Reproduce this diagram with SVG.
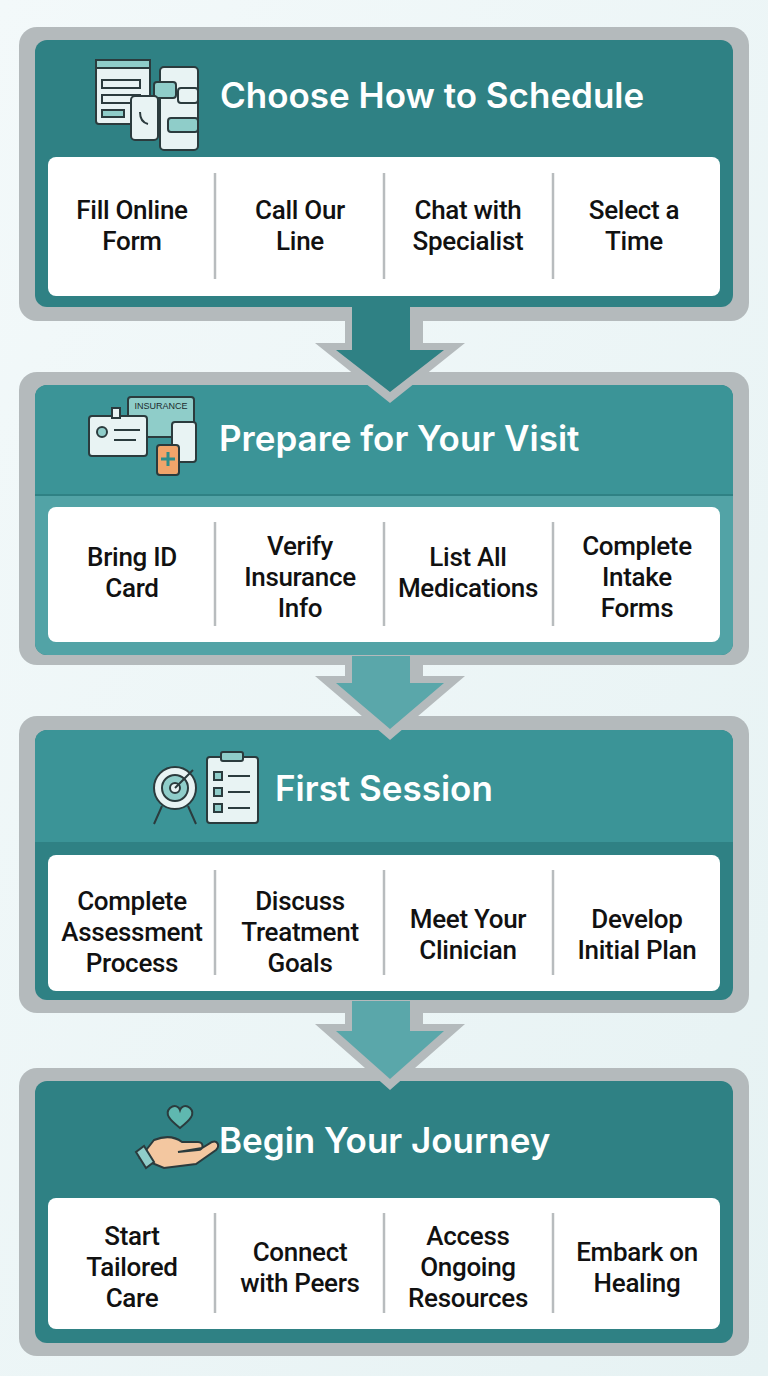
<svg xmlns="http://www.w3.org/2000/svg" width="768" height="1376" viewBox="0 0 768 1376">
<defs>
<style>
.frame{fill:#b4babc}
.panel{fill:#2f8184}
.head{fill:#3b9497}
.card{fill:#ffffff}
.div{stroke:#b8bcbe;stroke-width:2.5}
.t{font-family:Roboto,"Liberation Sans",Arial,sans-serif;font-weight:500;font-size:26px;fill:#111;text-anchor:middle;letter-spacing:-0.3px}
.h{font-family:"Inter","Liberation Sans",sans-serif;font-weight:600;font-size:35px;fill:#fff}
.ic{fill:#e8f3f3;stroke:#2b3b3d;stroke-width:2}
.ia{fill:#8fcdc9;stroke:#2b3b3d;stroke-width:2}
.ln{stroke:#2b3b3d;stroke-width:2;fill:none}
</style>
<linearGradient id="bg" x1="0" y1="0" x2="1" y2="1"><stop offset="0" stop-color="#f3f9fa"/><stop offset="1" stop-color="#e6f2f3"/></linearGradient>
</defs>
<rect width="768" height="1376" fill="url(#bg)"/>

<g id="step1">
<rect class="frame" x="19" y="27" width="730" height="294" rx="18"/>
<rect class="panel" x="35" y="40" width="698" height="267" rx="12"/>
<g>
<rect class="ic" x="96" y="60" width="54" height="64" rx="3"/>
<rect class="ia" x="96" y="60" width="54" height="8"/>
<rect x="102" y="80" width="38" height="8" class="ic"/><rect x="102" y="95" width="38" height="8" class="ic"/><rect x="102" y="110" width="22" height="7" class="ia"/>
<rect class="ic" x="160" y="67" width="38" height="83" rx="4"/>
<rect class="ia" x="154" y="82" width="22" height="16" rx="3"/><rect class="ic" x="178" y="88" width="20" height="15" rx="3"/><rect class="ia" x="168" y="118" width="30" height="14" rx="3"/>
<rect class="ic" x="131" y="96" width="27" height="44" rx="4"/>
<path class="ln" d="M140 112 q0 10 8 12"/>
</g>
<text class="h" x="220" y="108">Choose How to Schedule</text>
<rect class="card" x="48" y="157" width="672" height="139" rx="8"/>
<line class="div" x1="215" y1="173" x2="215" y2="279"/><line class="div" x1="384" y1="173" x2="384" y2="279"/><line class="div" x1="553" y1="173" x2="553" y2="279"/>
<text class="t" x="132" y="219">Fill Online<tspan x="132" dy="31">Form</tspan></text>
<text class="t" x="300" y="219">Call Our<tspan x="300" dy="31">Line</tspan></text>
<text class="t" x="468" y="219">Chat with<tspan x="468" dy="31">Specialist</tspan></text>
<text class="t" x="634" y="219">Select a<tspan x="634" dy="31">Time</tspan></text>
</g>

<g id="step2">
<rect class="frame" x="19" y="372" width="730" height="293" rx="18"/>
<rect class="panel" x="35" y="385" width="698" height="270" rx="12"/>
<rect class="head" x="35" y="385" width="698" height="110" rx="12"/>
<rect x="35" y="480" width="698" height="15" fill="#3b9497"/>
<rect x="35" y="494" width="698" height="2" fill="#2f8184"/>
<rect x="35" y="496" width="698" height="159" rx="12" fill="#52a3a6"/>
<rect x="35" y="496" width="698" height="20" fill="#52a3a6"/>
<g>
<rect class="ia" x="128" y="397" width="66" height="40" rx="3"/>
<text x="161" y="409" font-family="Liberation Sans,sans-serif" font-size="9" fill="#1b2b2d" text-anchor="middle">INSURANCE</text>
<rect class="ic" x="89" y="416" width="58" height="40" rx="3"/>
<circle cx="102" cy="432" r="5" class="ia"/><line class="ln" x1="114" y1="430" x2="140" y2="430"/><line class="ln" x1="114" y1="440" x2="136" y2="440"/>
<rect class="ic" x="112" y="408" width="8" height="10"/>
<rect class="ic" x="172" y="422" width="24" height="40" rx="3"/>
<rect class="ic" x="157" y="445" width="22" height="30" rx="3" style="fill:#f0a46a"/>
<path d="M168 452 v14 M161 459 h14" stroke="#2b8c8a" stroke-width="3"/>
</g>
<text class="h" x="219" y="451">Prepare for Your Visit</text>
<rect class="card" x="48" y="507" width="672" height="135" rx="8"/>
<line class="div" x1="215" y1="522" x2="215" y2="626"/><line class="div" x1="384" y1="522" x2="384" y2="626"/><line class="div" x1="553" y1="522" x2="553" y2="626"/>
<text class="t" x="132" y="566">Bring ID<tspan x="132" dy="31">Card</tspan></text>
<text class="t" x="300" y="555">Verify<tspan x="300" dy="31">Insurance</tspan><tspan x="300" dy="31">Info</tspan></text>
<text class="t" x="468" y="566">List All<tspan x="468" dy="31">Medications</tspan></text>
<text class="t" x="637" y="555">Complete<tspan x="637" dy="31">Intake</tspan><tspan x="637" dy="31">Forms</tspan></text>
</g>

<g id="step3">
<rect class="frame" x="19" y="716" width="730" height="297" rx="18"/>
<rect class="panel" x="35" y="730" width="698" height="270" rx="12"/>
<rect class="head" x="35" y="730" width="698" height="112" rx="12"/>
<rect x="35" y="830" width="698" height="12" fill="#3b9497"/>
<g>
<circle cx="175" cy="788" r="21" class="ic"/><circle cx="175" cy="788" r="13" class="ia"/><circle cx="175" cy="788" r="5" class="ic"/>
<path class="ln" d="M162 806 l-8 18 M188 806 l8 18 M175 788 l18 -18"/>
<rect class="ic" x="207" y="757" width="51" height="66" rx="3"/>
<rect class="ia" x="221" y="752" width="22" height="9" rx="2"/>
<rect class="ia" x="214" y="772" width="8" height="8"/><rect class="ia" x="214" y="788" width="8" height="8"/><rect class="ia" x="214" y="804" width="8" height="8"/>
<path class="ln" d="M228 776 h22 M228 792 h22 M228 808 h22"/>
</g>
<text class="h" x="275" y="801">First Session</text>
<rect class="card" x="48" y="855" width="672" height="136" rx="8"/>
<line class="div" x1="215" y1="870" x2="215" y2="975"/><line class="div" x1="384" y1="870" x2="384" y2="975"/><line class="div" x1="553" y1="870" x2="553" y2="975"/>
<text class="t" x="132" y="910">Complete<tspan x="132" dy="31">Assessment</tspan><tspan x="132" dy="31">Process</tspan></text>
<text class="t" x="300" y="910">Discuss<tspan x="300" dy="31">Treatment</tspan><tspan x="300" dy="31">Goals</tspan></text>
<text class="t" x="468" y="928">Meet Your<tspan x="468" dy="31">Clinician</tspan></text>
<text class="t" x="637" y="928">Develop<tspan x="637" dy="31">Initial Plan</tspan></text>
</g>

<g id="step4">
<rect class="frame" x="19" y="1068" width="730" height="288" rx="18"/>
<rect class="panel" x="35" y="1081" width="698" height="262" rx="12"/>
<g>
<path d="M180 1128 c-10 -8 -16 -14 -10 -20 c5 -4 9 -1 10 2 c1 -3 5 -6 10 -2 c6 6 0 12 -10 20 z" fill="#5fb8b0" stroke="#2b3b3d" stroke-width="2"/>
<path d="M140 1158 l14 -18 c10 -4 20 -4 28 2 l16 0 c6 0 6 8 0 8 l-20 2 l24 -4 l10 -6 c6 -2 8 4 4 8 l-20 14 l-32 4 z" fill="#f3c7a0" stroke="#2b3b3d" stroke-width="2"/>
<path d="M136 1152 l10 16 l8 -6 l-10 -16 z" fill="#8fcdc9" stroke="#2b3b3d" stroke-width="2"/>
</g>
<text class="h" x="219" y="1153">Begin Your Journey</text>
<rect class="card" x="48" y="1198" width="672" height="131" rx="8"/>
<line class="div" x1="215" y1="1213" x2="215" y2="1313"/><line class="div" x1="384" y1="1213" x2="384" y2="1313"/><line class="div" x1="553" y1="1213" x2="553" y2="1313"/>
<text class="t" x="132" y="1245">Start<tspan x="132" dy="31">Tailored</tspan><tspan x="132" dy="31">Care</tspan></text>
<text class="t" x="300" y="1261">Connect<tspan x="300" dy="31">with Peers</tspan></text>
<text class="t" x="468" y="1245">Access<tspan x="468" dy="31">Ongoing</tspan><tspan x="468" dy="31">Resources</tspan></text>
<text class="t" x="637" y="1261">Embark on<tspan x="637" dy="31">Healing</tspan></text>
</g>

<g id="connectors">
<path d="M345 307 H423 V343 H465 L390 403 L315 343 H345 Z" fill="#b4babc"/>
<path d="M352 307 H410 V350 H444 L390 392 L336 350 H352 Z" fill="#2f8184"/>
<path d="M345 656 H423 V676 H465 L390 740 L315 676 H345 Z" fill="#b4babc"/>
<path d="M352 656 H410 V683 H444 L390 729 L336 683 H352 Z" fill="#5aa7aa"/>
<path d="M345 1001 H423 V1024 H465 L390 1090 L315 1024 H345 Z" fill="#b4babc"/>
<path d="M352 1001 H410 V1031 H444 L390 1079 L336 1031 H352 Z" fill="#5aa7aa"/>
</g>
</svg>
